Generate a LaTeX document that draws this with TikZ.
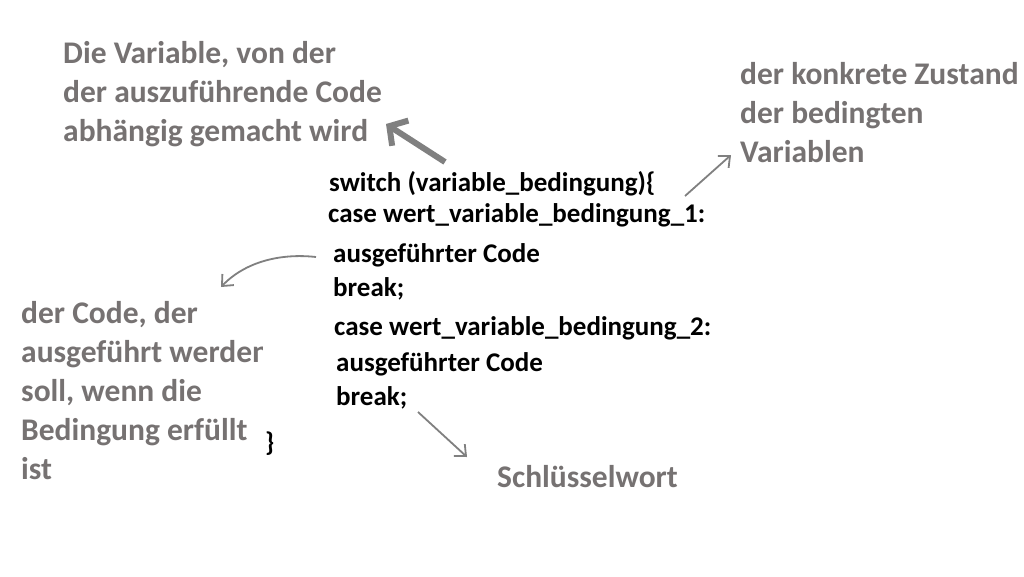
\documentclass[tikz,border=0pt]{standalone}
\usepackage{fontspec}
\setmainfont{Carlito}
\usetikzlibrary{arrows.meta}
\definecolor{notegray}{RGB}{118,114,114}
\definecolor{arrowgray}{RGB}{128,128,128}
\begin{document}
\begin{tikzpicture}[x=1pt,y=-1pt,
  note/.style={anchor=base west,inner sep=0pt,text=notegray,font=\fontsize{31.5}{38.8}\selectfont\bfseries,align=left},
  code/.style={anchor=base west,inner sep=0pt,text=black,font=\fontsize{27}{32}\selectfont\bfseries},
  thinarrow/.style={draw=arrowgray,line width=1.8pt,-{Straight Barb[length=9pt,width=16pt,line width=1.8pt]}},
  thickarrow/.style={draw=arrowgray,line width=6pt,-{Straight Barb[length=13pt,width=30pt,line width=6pt]}}]
\useasboundingbox (0,0) rectangle (1024,576);
\fill[white] (0,0) rectangle (1024,576);
% notes (base = baseline of the last line)
\node[note] (var) at (63,141) {Die Variable, von der\\der auszuführende Code\\abhängig gemacht wird};
\node[note] (zust) at (740,162) {der konkrete Zustand\\der bedingten\\Variablen};
\begin{scope}
\clip (0,280) rectangle (262,500);
\node[note] (codenote) at (21,479) {der Code, der\\ausgeführt werden\\soll, wenn die\\Bedingung erfüllt\\ist};
\end{scope}
\node[note] (key) at (497,487) {Schlüsselwort};
% code
\node[code] (sw) at (329,191) {switch (variable\_bedingung)\{};
\node[code] (c1) at (328,222) {case wert\_variable\_bedingung\_1:};
\node[code] (a1) at (333,262) {ausgeführter Code};
\node[code] (b1) at (333,296) {break;};
\node[code] (c2) at (334,335) {case wert\_variable\_bedingung\_2:};
\node[code] (a2) at (336,371) {ausgeführter Code};
\node[code] (b2) at (336,405) {break;};
\node[code] (close) at (265,451) {\}};
% arrow endpoints
\coordinate (p1s) at (445,162);
\coordinate (p1e) at (386,124);
\coordinate (p2s) at (685,196);
\coordinate (p2e) at (731,155);
\coordinate (p3s) at (316,257);
\coordinate (p3e) at (221,287);
\coordinate (p4s) at (418,412);
\coordinate (p4e) at (467,457);
\draw[thickarrow] (p1s) -- (p1e);
\draw[thinarrow] (p2s) -- (p2e);
\draw[thinarrow] (p3s) .. controls (280,253) and (245,262) .. (p3e);
\draw[thinarrow] (p4s) -- (p4e);
\end{tikzpicture}
\end{document}
